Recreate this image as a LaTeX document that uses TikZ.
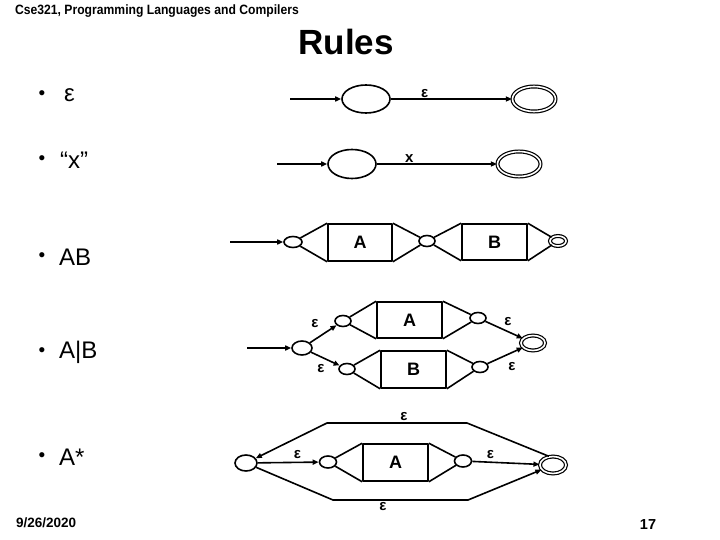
\documentclass[tikz,border=0pt]{standalone}
\usepackage{fontspec}
\setmainfont{Liberation Sans}
\usetikzlibrary{shapes.geometric,arrows.meta}
\tikzset{
  ln/.style={line width=1.6pt, line join=round},
  arr/.style={ln, -{Triangle[length=6pt,width=5pt]}},
  st/.style={draw, ln, ellipse, inner sep=0pt, minimum width=#1},
  acc/.style={draw, line width=1.2pt, double, double distance=1.6pt, ellipse, inner sep=0pt},
  box/.style={draw, ln, rectangle, inner sep=0pt, font=\fontsize{18}{20}\selectfont\bfseries},
  lab/.style={font=\fontsize{15}{17}\selectfont\bfseries, inner sep=1pt},
  bul/.style={font=\fontsize{24}{28}\selectfont, anchor=west, inner sep=0pt},
  dot/.style={font=\fontsize{19}{21}\selectfont, inner sep=0pt},
}
\begin{document}
\begin{tikzpicture}[x=1pt,y=-1pt]
\useasboundingbox (0,0) rectangle (720,540);
% header, title, footer
\node[anchor=west, inner sep=0pt] (hdr) at (15,11) {\scalebox{0.9}[1]{\fontsize{13.5}{15}\selectfont\bfseries Cse321, Programming Languages and Compilers}};
\node[font=\fontsize{35}{40}\selectfont\bfseries] (title) at (346,42) {Rules};
\node[anchor=west, inner sep=0pt, font=\fontsize{13.5}{15}\selectfont\bfseries] (date) at (16,523) {9/26/2020};
\node[font=\fontsize{14.5}{16}\selectfont\bfseries] (page) at (648,525) {17};
% bullets
\node[dot] (b1) at (42,95) {•};
\node[bul] (t1) at (64,95) {ε};
\node[dot] (b2) at (42,160) {•};
\node[bul] (t2) at (60,160) {“x”};
\node[dot] (b3) at (42,257) {•};
\node[bul] (t3) at (59,257) {AB};
\node[dot] (b4) at (42,352) {•};
\node[bul] (t4) at (59,352) {A|B};
\node[dot] (b5) at (42,457) {•};
\node[bul] (t5) at (59,457) {A*};
% rule epsilon
\coordinate (in1) at (290,99);
\node[st=48pt, minimum height=28pt] (p1) at (366,99) {};
\node[acc, minimum width=43pt, minimum height=25pt] (q1) at (534,99) {};
\draw[arr] (in1) -- (p1);
\draw[arr] (p1) -- node[lab, pos=0.28, above] {ε} (q1);
% rule x
\coordinate (in2) at (277,164);
\node[st=48pt, minimum height=29pt] (p2) at (352,164) {};
\node[acc, minimum width=43pt, minimum height=25pt] (q2) at (519,164) {};
\draw[arr] (in2) -- (p2);
\draw[arr] (p2) -- node[lab, pos=0.27, above] {x} (q2);
% rule AB
\coordinate (in3) at (230,242);
\node[st=18pt, minimum height=11pt] (a1) at (293,242) {};
\node[box, minimum width=64pt, minimum height=37pt] (bA) at (360,242.5) {A};
\node[st=16pt, minimum height=11pt] (a2) at (427,241) {};
\node[box, minimum width=65pt, minimum height=36pt] (bB) at (494.5,242) {B};
\node[acc, minimum width=16pt, minimum height=10pt] (a3) at (558,241) {};
\draw[arr] (in3) -- (a1);
\draw[ln] (a1) -- (bA.north west) (a1) -- (bA.south west);
\draw[ln] (bA.north east) -- (a2) (bA.south east) -- (a2);
\draw[ln] (a2) -- (bB.north west) (a2) -- (bB.south west);
\draw[ln] (bB.north east) -- (a3) (bB.south east) -- (a3);
% rule A|B
\coordinate (in4) at (247,348);
\node[st=20pt, minimum height=14pt] (o1) at (302,348) {};
\node[st=16pt, minimum height=11pt] (u1) at (343,321) {};
\node[box, minimum width=65pt, minimum height=36pt] (cA) at (409.5,320) {A};
\node[st=16pt, minimum height=11pt] (u2) at (478,318) {};
\node[st=16pt, minimum height=11pt] (l1) at (347,369) {};
\node[box, minimum width=65pt, minimum height=37pt] (cB) at (413.5,369.5) {B};
\node[st=16pt, minimum height=11pt] (l2) at (480,367) {};
\node[acc, minimum width=24pt, minimum height=15pt] (o2) at (533,343) {};
\draw[arr] (in4) -- (o1);
\draw[arr] (o1) -- (u1);
\draw[arr] (o1) -- (l1);
\draw[ln] (u1) -- (cA.north west) (u1) -- (cA.south west);
\draw[ln] (cA.north east) -- (u2) (cA.south east) -- (u2);
\draw[ln] (l1) -- (cB.north west) (l1) -- (cB.south west);
\draw[ln] (cB.north east) -- (l2) (cB.south east) -- (l2);
\draw[arr] (u2) -- (o2);
\draw[arr] (l2) -- (o2);
\node[lab] (e1) at (315,324) {ε};
\node[lab] (e2) at (321,369) {ε};
\node[lab] (e3) at (508,322) {ε};
\node[lab] (e4) at (512,367) {ε};
% rule A*
\node[st=22pt, minimum height=16pt] (s0) at (246,463) {};
\node[st=17pt, minimum height=12pt] (s1) at (328,462) {};
\node[box, minimum width=65pt, minimum height=37pt] (dA) at (395.5,462.5) {A};
\node[st=17pt, minimum height=12pt] (s2) at (463,461) {};
\node[acc, minimum width=26pt, minimum height=17pt] (s3) at (553,465) {};
\coordinate (t1a) at (467,423);
\coordinate (t1b) at (327,423);
\coordinate (b1a) at (333,500);
\coordinate (b1b) at (468,500);
\draw[arr] (s0) -- node[lab, pos=0.65, above=2pt] {ε} (s1);
\draw[ln] (s1) -- (dA.north west) (s1) -- (dA.south west);
\draw[ln] (dA.north east) -- (s2) (dA.south east) -- (s2);
\draw[arr] (s2) -- node[lab, pos=0.27, above=2pt] {ε} (s3);
\draw[arr] (s3.115) -- (t1a) -- node[lab, pos=0.45, above=1pt] {ε} (t1b) -- (s0);
\draw[arr] (s0) -- (b1a) -- node[lab, pos=0.37, below=1pt] {ε} (b1b) -- (s3);
\end{tikzpicture}
\end{document}
